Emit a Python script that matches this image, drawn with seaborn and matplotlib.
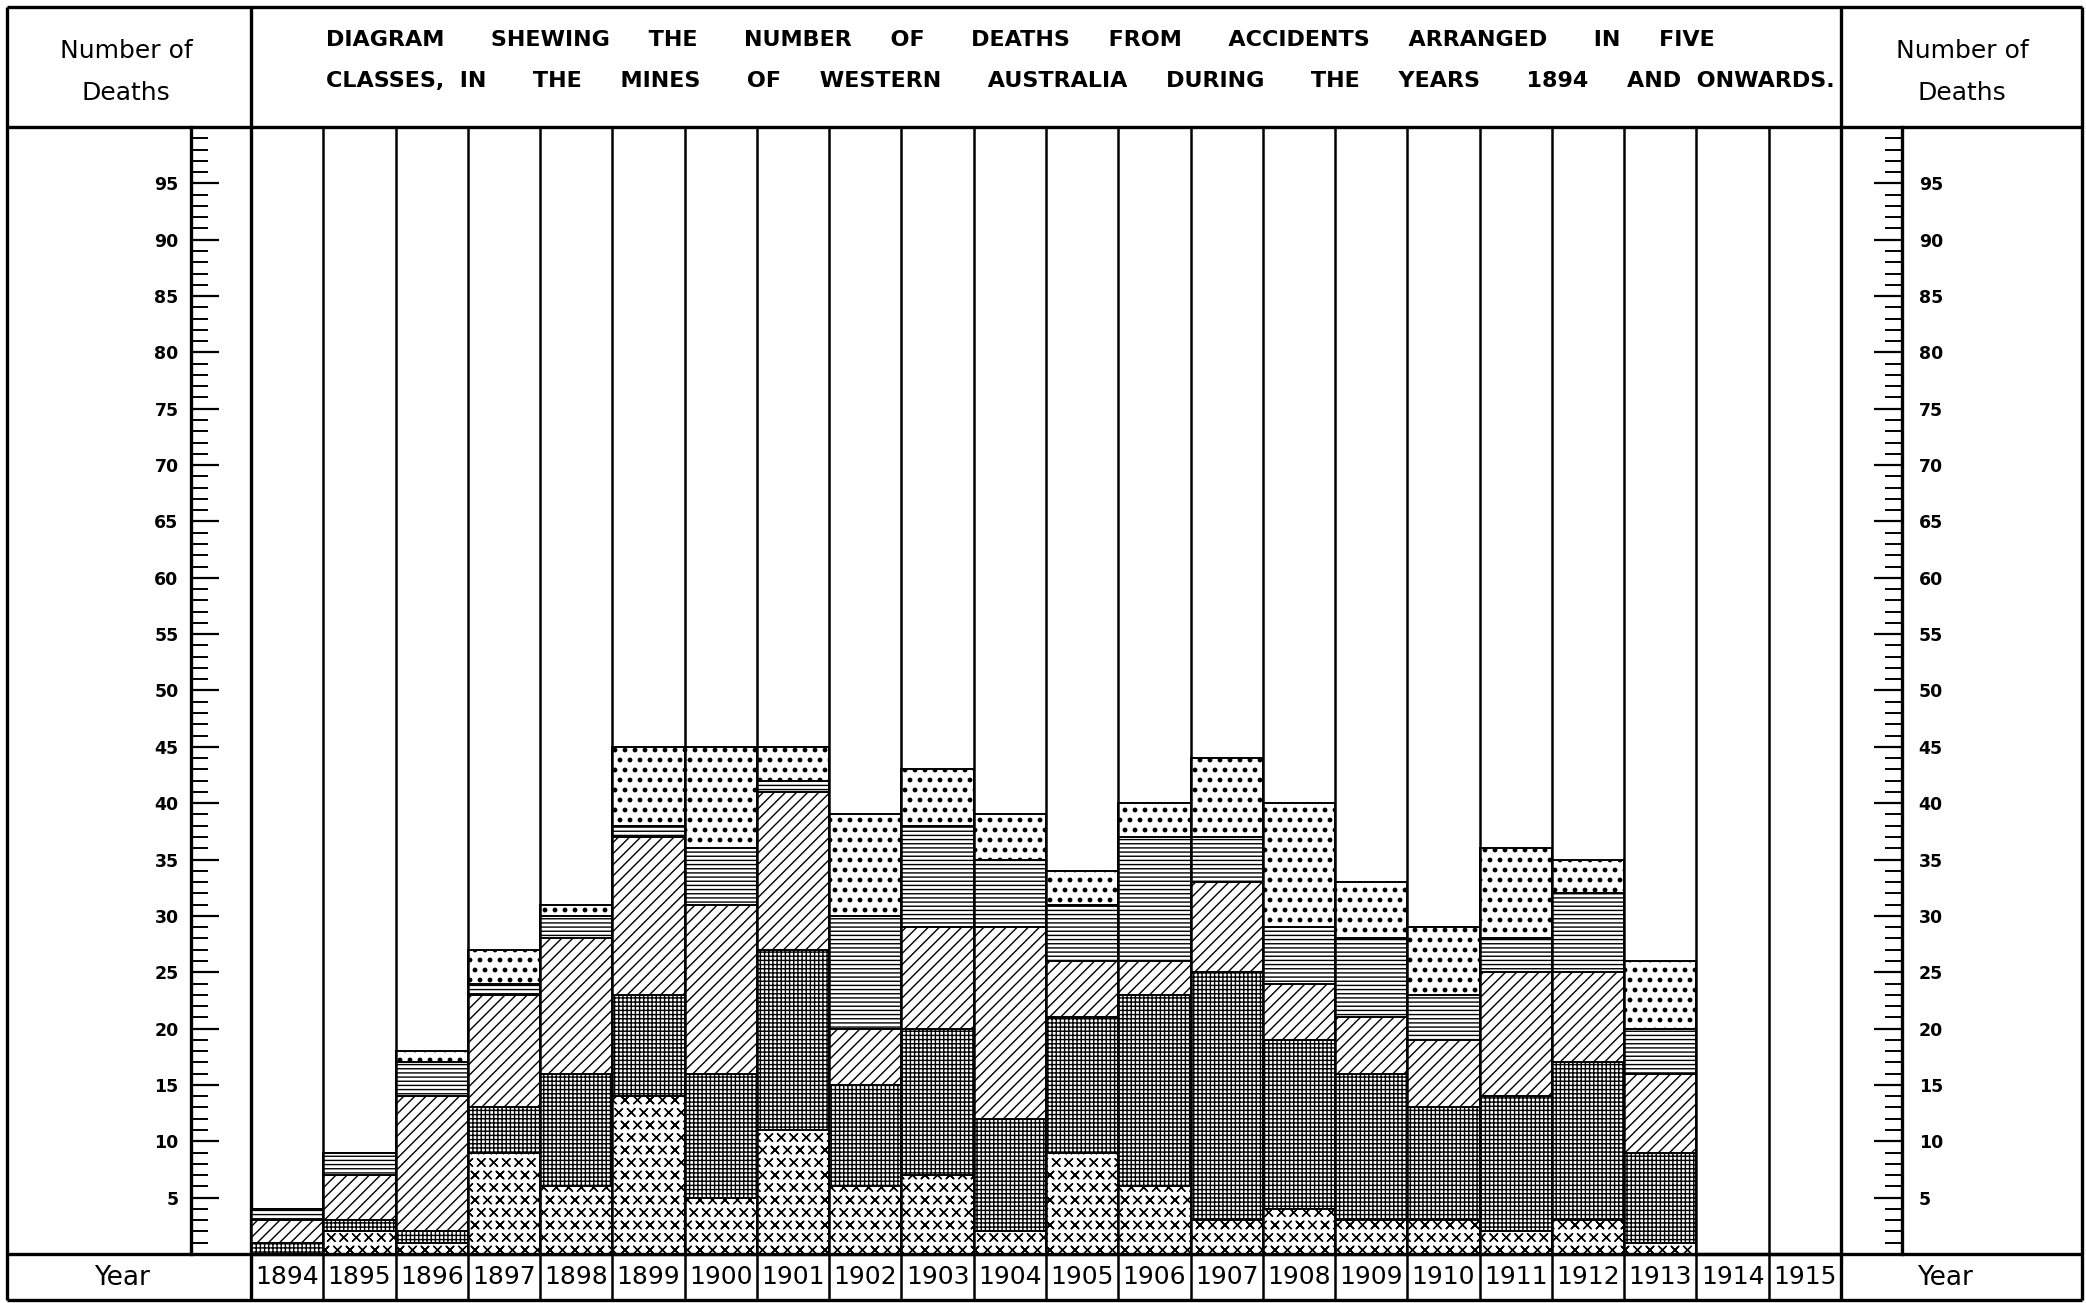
import numpy as np
import pandas as pd
import matplotlib
matplotlib.use('Agg')
import matplotlib.pyplot as plt
import matplotlib.hatch as mhatch
from matplotlib.path import Path
import seaborn as sns

# Deaths from mining accidents, Western Australia, in five classes (stacked bottom -> top)
years = ['1894', '1895', '1896', '1897', '1898', '1899', '1900', '1901', '1902', '1903', '1904',
         '1905', '1906', '1907', '1908', '1909', '1910', '1911', '1912', '1913', '1914', '1915']
crosses = [0, 2, 1, 9, 6, 14, 5, 11, 6, 7, 2, 9, 6, 3, 4, 3, 3, 2, 3, 1, 0, 0]
grid = [1, 1, 1, 4, 10, 9, 11, 16, 9, 13, 10, 12, 17, 22, 15, 13, 10, 12, 14, 8, 0, 0]
diag = [2, 4, 12, 10, 12, 14, 15, 14, 5, 9, 17, 5, 3, 8, 5, 5, 6, 11, 8, 7, 0, 0]
horiz = [1, 2, 3, 1, 2, 1, 5, 1, 10, 9, 6, 5, 11, 4, 5, 7, 4, 3, 7, 4, 0, 0]
dots = [0, 0, 1, 3, 1, 7, 9, 3, 9, 5, 4, 3, 3, 7, 11, 5, 6, 8, 3, 6, 0, 0]

layers = [crosses, grid, diag, horiz, dots]
hatches = ['*', '++++', '///', '----', '..']

title_1 = ('DIAGRAM      SHEWING     THE      NUMBER     OF      DEATHS     FROM      '
           'ACCIDENTS     ARRANGED      IN     FIVE')
title_2 = ('CLASSES,  IN      THE     MINES      OF     WESTERN      AUSTRALIA     DURING      '
           'THE     YEARS      1894     AND  ONWARDS.')


# the '*' hatch is redrawn as small separate x marks, like the engraved pattern
class CrossMarks(mhatch.Shapes):
    size = 0.3
    filled = False

    def __init__(self, hatch, density):
        self.num_rows = hatch.count('*') * 8
        self.shape_vertices = np.array([[-1, -1], [1, 1], [-1, 1], [1, -1]], dtype=float)
        self.shape_codes = np.array([Path.MOVETO, Path.LINETO, Path.MOVETO, Path.LINETO],
                                    dtype=Path.code_type)
        super().__init__(hatch, density)


# sparser, round dots for the '.' hatch
class Dots(mhatch.SmallFilledCircles):
    size = 0.17

    def __init__(self, hatch, density):
        self.num_rows = hatch.count('.') * 5
        mhatch.Circles.__init__(self, hatch, density)


mhatch._hatch_types[mhatch._hatch_types.index(mhatch.Stars)] = CrossMarks
mhatch._hatch_types[mhatch._hatch_types.index(mhatch.SmallFilledCircles)] = Dots

sns.set_style('white')
plt.rcParams['font.family'] = ['DejaVu Sans']
plt.rcParams['text.color'] = 'black'
plt.rcParams['ytick.color'] = 'black'
plt.rcParams['hatch.linewidth'] = 1.0
plt.rcParams['hatch.color'] = 'black'

W, H = 2086, 1303
fig = plt.figure(figsize=(W / 100, H / 100), dpi=100)

# frame of the drawing (header, footer and side columns)
bg = fig.add_axes([0, 0, 1, 1])
bg.set_xlim(0, W)
bg.set_ylim(H, 0)
bg.axis('off')
bg.hlines([7, 127, 1254, 1300], 7, 2082, color='black', lw=2.4)
bg.vlines([7, 251, 1841, 2082], 7, 1300, color='black', lw=2.4)

bg.text(326, 40, title_1, ha='left', va='center', fontsize=16, fontweight='bold')
bg.text(326, 81, title_2, ha='left', va='center', fontsize=16, fontweight='bold')
for cx in [126, 1962]:
    bg.text(cx, 51, 'Number of', ha='center', va='center', fontsize=18)
    bg.text(cx, 93, 'Deaths', ha='center', va='center', fontsize=18)
bg.text(122, 1278, 'Year', ha='center', va='center', fontsize=19)
bg.text(1945, 1278, 'Year', ha='center', va='center', fontsize=19)

# main chart: y below 0 is the footer row holding the years
FOOT = 46 / 11.27
ax_pos = [251 / W, 3 / H, 1590 / W, 1173 / H]
ax = fig.add_axes(ax_pos)
ax.set_facecolor('none')

for i in range(len(layers) - 1, -1, -1):
    cum = np.sum(layers[:i + 1], axis=0)
    df = pd.DataFrame({'Year': years, 'Deaths': cum})
    sns.barplot(data=df, x='Year', y='Deaths', order=years, color='white', saturation=1,
                edgecolor='black', linewidth=1.4, hatch=hatches[i], width=1.0, ax=ax)

ax.set_xlim(-0.5, len(years) - 0.5)
ax.set_ylim(-FOOT, 100)
ax.vlines(np.arange(-0.5, len(years)), -FOOT, 100, color='black', lw=1.8)
ax.axhline(0, color='black', lw=2.4)
for i, yr in enumerate(years):
    ax.text(i, -FOOT / 2, yr, ha='center', va='center', fontsize=18)
ax.set_xticks([])
ax.set_yticks([])
ax.set_xlabel('')
ax.set_ylabel('')
for s in ax.spines.values():
    s.set_visible(False)

# the two hand-ruled scales
for xpix, side in [(191, 'left'), (1901, 'right')]:
    sc = fig.add_axes([xpix / W, ax_pos[1], 0.0005, ax_pos[3]])
    sc.set_facecolor('none')
    sc.set_ylim(-FOOT, 100)
    sc.set_xticks([])
    for name, s in sc.spines.items():
        s.set_visible(name == side)
    sc.spines[side].set_bounds(0, 100)
    sc.spines[side].set_linewidth(2.4)
    sc.spines[side].set_color('black')
    if side == 'right':
        sc.yaxis.tick_right()
    else:
        sc.yaxis.tick_left()
    sc.set_yticks(np.arange(5, 100, 5))
    sc.set_yticks(np.arange(1, 100), minor=True)
    sc.tick_params(axis='y', which='both', left=(side == 'left'), right=(side == 'right'),
                   labelleft=(side == 'left'), labelright=(side == 'right'))
    sc.tick_params(axis='y', which='major', direction='in', length=20, width=1.6,
                   pad=9 if side == 'left' else 12, labelsize=12.5)
    sc.tick_params(axis='y', which='minor', direction='in', length=12, width=1.4)
    for lab in sc.get_yticklabels():
        lab.set_fontweight('bold')

fig.savefig('out.png', dpi=100)
